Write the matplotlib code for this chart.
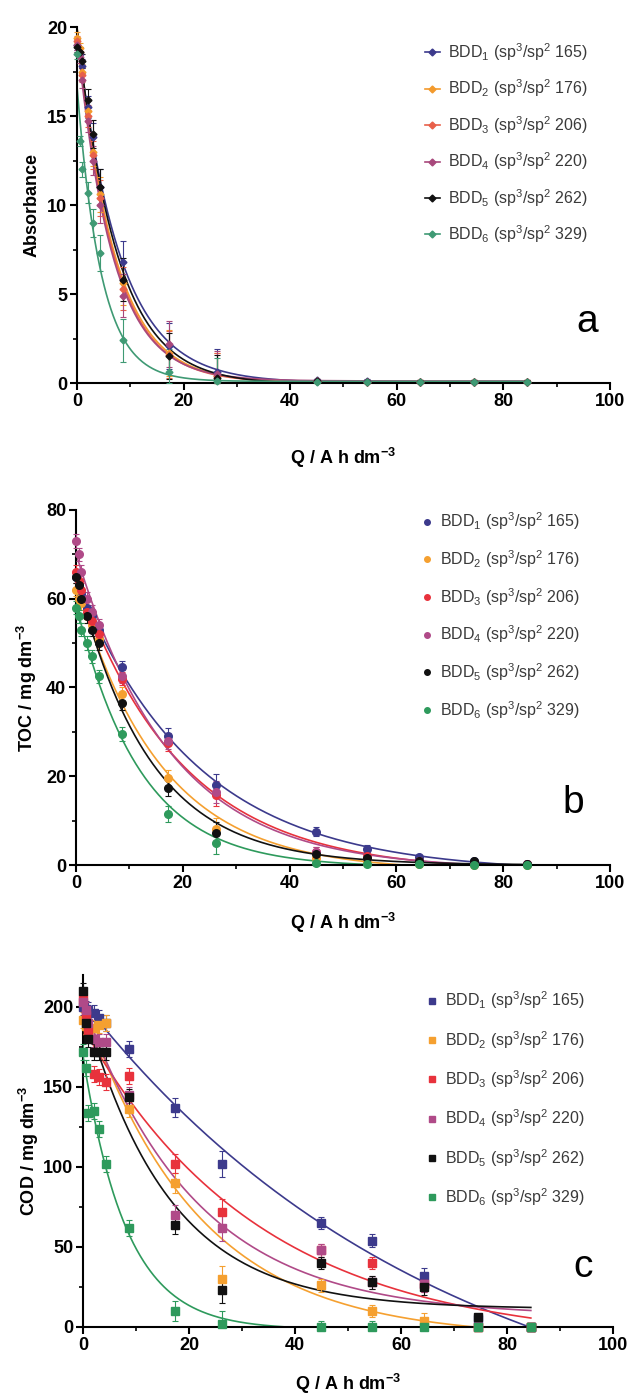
import numpy as np
import matplotlib
matplotlib.use("Agg")
import matplotlib.pyplot as plt
from matplotlib.lines import Line2D

plt.rcParams['font.family'] = ['Liberation Sans', 'DejaVu Sans']
plt.rcParams['mathtext.default'] = 'regular'

# charge passed, Q / A h dm-3
q = [0, 0.5, 1, 2, 3, 4.3, 8.6, 17.3, 26.3, 45, 54.5, 64.3, 74.5, 84.5]

labels = [r'BDD$_{%d}$ (sp$^3$/sp$^2$ %s)' % (i + 1, r) for i, r in
          enumerate(['165', '176', '206', '220', '262', '329'])]
colors_a = ['#3c3a8c', '#f39a2c', '#e8604a', '#a8487c', '#111111', '#3f9a74']
colors_bc = ['#3c3a8c', '#f5a030', '#e8323c', '#b04a88', '#111111', '#2e9a5c']

# panel a: absorbance
abs_1 = [19.0, 18.5, 17.8, 15.5, 13.8, 11.0, 6.8, 2.1, 0.6, 0.15, 0.1, 0.05, 0.05, 0.05]
abs_2 = [19.4, 18.8, 17.5, 15.3, 13.0, 10.6, 5.6, 1.7, 0.4, 0.1, 0.05, 0.05, 0.05, 0.05]
abs_3 = [19.2, 18.6, 17.3, 15.0, 12.8, 10.4, 5.3, 1.6, 0.4, 0.1, 0.05, 0.05, 0.05, 0.05]
abs_4 = [19.0, 18.3, 17.0, 14.7, 12.5, 10.0, 4.9, 2.2, 0.5, 0.1, 0.05, 0.05, 0.05, 0.05]
abs_5 = [18.9, 18.6, 18.1, 15.9, 14.0, 11.0, 5.8, 1.5, 0.3, 0.1, 0.05, 0.05, 0.05, 0.05]
abs_6 = [18.5, 13.6, 12.0, 10.7, 9.0, 7.3, 2.4, 0.6, 0.1, 0.05, 0.05, 0.05, 0.05, 0.05]
abs_err = [0.3, 0.3, 0.4, 0.6, 0.8, 1.0, 1.2, 1.3, 1.3, 0.1, 0.1, 0.1, 0.1, 0.1]

# panel b: TOC
toc_1 = [65, 63, 61, 58, 56, 53, 44.5, 29, 18, 7.5, 3.5, 1.8, 0.8, 0.3]
toc_2 = [62, 60, 59, 56, 54, 51, 38.5, 19.5, 8, 1.5, 0.5, 0.2, 0.1, 0.1]
toc_3 = [66, 64, 62, 57, 55, 52, 42, 27.5, 15.8, 3, 2, 1, 0.5, 0.2]
toc_4 = [73, 70, 66, 60, 57, 54, 42.5, 28, 16.5, 3, 1.5, 1, 0.5, 0.2]
toc_5 = [65, 63, 60, 56, 53, 50, 36.5, 17.3, 7.2, 2.5, 1.5, 1, 0.8, 0.2]
toc_6 = [58, 56, 53, 50, 47, 42.5, 29.5, 11.5, 5, 0.5, 0.3, 0.2, 0.1, 0.1]
toc_err = [1.5, 1.5, 1.5, 1.5, 1.5, 1.5, 1.5, 1.8, 2.5, 1, 1, 0.5, 0.5, 0.3]

# panel c: COD
cod_1 = [200, 199, 198, 196, 193, 190, 174, 137, 102, 65, 54, 32, 5, 0]
cod_2 = [192, 188, 185, 187, 189, 190, 136, 90, 30, 26, 10, 4, 0, 0]
cod_3 = [205, 195, 185, 158, 156, 153, 157, 102, 72, 48, 40, 27, 0, 0]
cod_4 = [203, 198, 190, 180, 178, 178, 145, 70, 62, 48, 28, 27, 0, 0]
cod_5 = [210, 190, 180, 172, 172, 172, 144, 64, 23, 40, 28, 25, 6, 0]
cod_6 = [172, 162, 134, 135, 124, 102, 62, 10, 2, 0, 0, 0, 0, 0]
cod_err = [5, 5, 5, 5, 5, 5, 5, 6, 8, 4, 4, 5, 2, 2]


def fit_decay(x, y):
    # least squares fit of y = a*exp(-k x) + b, k by grid search
    x = np.asarray(x, float)
    y = np.asarray(y, float)
    best = None
    for k in np.linspace(0.002, 1.0, 2500):
        m = np.column_stack([np.exp(-k * x), np.ones_like(x)])
        coef = np.linalg.lstsq(m, y, rcond=None)[0]
        sse = np.sum((m @ coef - y) ** 2)
        if best is None or sse < best[0]:
            best = (sse, k, coef)
    return best[1], best[2]


def draw_panel(ax, series, err, colors, marker, ms):
    for y, c in zip(series, colors):
        k, (a, b) = fit_decay(q, y)
        xs = np.linspace(0, q[-1], 400)
        ys = a * np.exp(-k * xs) + b
        ys[ys < 0] = np.nan
        ax.plot(xs, ys, color=c, lw=1.2, zorder=2)
        lo = np.minimum(err, y)
        ax.errorbar(q, y, yerr=[lo, err], fmt=marker, color=c, ms=ms, mec=c,
                    elinewidth=0.8, capsize=2.5, capthick=0.8, zorder=3, clip_on=False)


fig = plt.figure(figsize=(6.38, 13.99), dpi=100)
ax_a = fig.add_axes([0.1207, 0.7262, 0.8354, 0.2545])
ax_b = fig.add_axes([0.1191, 0.3817, 0.8370, 0.2538])
ax_c = fig.add_axes([0.1301, 0.0515, 0.8307, 0.2516])

draw_panel(ax_a, [abs_1, abs_2, abs_3, abs_4, abs_5, abs_6], abs_err, colors_a, 'D', 3.5)
draw_panel(ax_b, [toc_1, toc_2, toc_3, toc_4, toc_5, toc_6], toc_err, colors_bc, 'o', 5.5)
draw_panel(ax_c, [cod_1, cod_2, cod_3, cod_4, cod_5, cod_6], cod_err, colors_bc, 's', 5.5)

ax_a.set_ylim(0, 20)
ax_a.set_yticks([0, 5, 10, 15, 20])
ax_a.set_yticks(np.arange(0, 20, 2.5), minor=True)
ax_b.set_ylim(0, 80)
ax_b.set_yticks([0, 20, 40, 60, 80])
ax_b.set_yticks(np.arange(0, 80, 10), minor=True)
ax_c.set_ylim(0, 220)
ax_c.set_yticks([0, 50, 100, 150, 200])
ax_c.set_yticks(np.arange(0, 225, 25), minor=True)

ylabels = ['Absorbance', 'TOC / mg dm$^{-3}$', 'COD / mg dm$^{-3}$']
xlab_off = [-0.177, -0.130, -0.128]
ylab_x = [(41 - 77) / 533, (39 - 76) / 534, (41 - 83) / 530]
letters = [('a', 587, 322), ('b', 573, 803), ('c', 583, 1267)]
handles_mk = ['D', 'o', 's']
anchors = [(0.652, 0.960), (0.648, 0.998), (0.649, 0.958)]
spacing = [0.92, 1.0, 1.1]

for i, ax in enumerate([ax_a, ax_b, ax_c]):
    ax.set_xlim(0, 100)
    ax.set_xticks([0, 20, 40, 60, 80, 100])
    ax.set_xticks([10, 30, 50, 70, 90], minor=True)
    for s in ['top', 'right']:
        ax.spines[s].set_visible(False)
    for s in ['left', 'bottom']:
        ax.spines[s].set_linewidth(1.5)
    ax.tick_params(which='major', length=5, width=1.5, labelsize=13, pad=2)
    ax.tick_params(which='minor', length=3, width=1.2)
    for t in ax.get_xticklabels() + ax.get_yticklabels():
        t.set_fontweight('bold')
    ax.set_xlabel('Q / A h dm$^{-3}$', fontsize=13, fontweight='bold')
    ax.xaxis.set_label_coords(0.5, xlab_off[i])
    ax.set_ylabel(ylabels[i], fontsize=13, fontweight='bold')
    ax.yaxis.set_label_coords(ylab_x[i], 0.5)

    cols = colors_a if i == 0 else colors_bc
    if i == 0:
        hs = [Line2D([], [], color=c, marker='D', ms=3.5, lw=1.2) for c in cols]
        hl = 1.0
    else:
        hs = [Line2D([], [], color=c, marker=handles_mk[i], ms=4, lw=0) for c in cols]
        hl = 0.6
    ax.legend(hs, labels, loc='upper left', bbox_to_anchor=anchors[i], frameon=False,
              fontsize=11.5, labelcolor='#3a3a3a', borderpad=0, handlelength=hl,
              handletextpad=0.5, labelspacing=spacing[i], borderaxespad=0)

    name, px, py = letters[i]
    fig.text(px / 638, 1 - py / 1399, name, fontsize=28, ha='center', va='center')

fig.savefig('out.png', dpi=100)
